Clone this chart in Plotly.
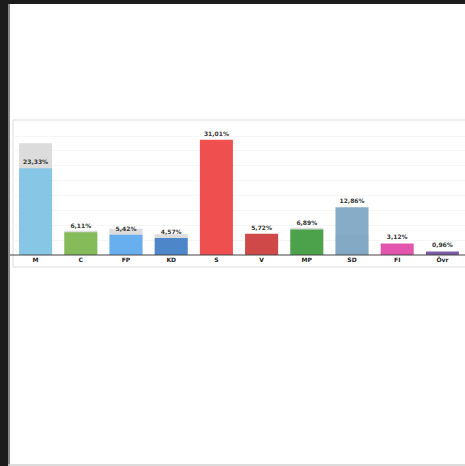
import plotly.graph_objects as go

parties = ["M", "C", "FP", "KD", "S", "V", "MP", "SD", "FI", "Övr"]
result_2014 = [23.33, 6.11, 5.42, 4.57, 31.01, 5.72, 6.89, 12.86, 3.12, 0.96]
result_2010 = [30.06, 6.56, 7.06, 5.60, 30.66, 5.60, 7.34, 5.70, 0.40, 0.56]
labels_2014 = ["23,33%", "6,11%", "5,42%", "4,57%", "31,01%", "5,72%", "6,89%", "12,86%", "3,12%", "0,96%"]
party_colors = ["#80c4e6", "#7cb84a", "#5cabf2", "#3f7ec7", "#f2403f",
                "#cf3a3a", "#3c9c3c", "#7ba4c3", "#e244a6", "#6f4c9c"]

W, H = 465, 466
L, R, T, B = 13, 0, 122, 211
PW = W - L - R
PH = H - T - B

def px(x):
    return (x - L) / PW

def py(y):
    return (H - B - y) / PH

fig = go.Figure()
fig.add_trace(go.Bar(
    x=parties, y=result_2010, marker=dict(color="#dcdcdc", line=dict(width=0)),
    hoverinfo="skip", showlegend=False,
))
fig.add_trace(go.Bar(
    x=parties, y=result_2014, marker=dict(color=party_colors, line=dict(width=0)),
    opacity=0.9,
    text=labels_2014, textposition="outside", cliponaxis=False,
    textfont=dict(size=6, color="#222222", family="DejaVu Sans", weight="bold"),
    showlegend=False,
))

shapes = [
    dict(type="rect", xref="paper", yref="paper", x0=px(13), x1=px(470), y0=py(120), y1=py(267),
         line=dict(color="#dddddd", width=1), fillcolor="rgba(0,0,0,0)", layer="below"),
    dict(type="rect", xref="paper", yref="paper", x0=px(-2), x1=px(8), y0=py(470), y1=py(-2),
         line=dict(width=0), fillcolor="#1c1c1c", layer="above"),
    dict(type="rect", xref="paper", yref="paper", x0=px(8), x1=px(10), y0=py(470), y1=py(-2),
         line=dict(width=0), fillcolor="#888888", layer="above"),
    dict(type="rect", xref="paper", yref="paper", x0=px(-2), x1=px(470), y0=py(4), y1=py(-2),
         line=dict(width=0), fillcolor="#1c1c1c", layer="above"),
    dict(type="line", xref="paper", yref="paper", x0=px(8), x1=px(470), y0=py(465), y1=py(465),
         line=dict(color="#d0d0d0", width=1.5)),
    dict(type="line", xref="paper", yref="paper", x0=px(10), x1=px(470), y0=py(255), y1=py(255),
         line=dict(color="#444444", width=1)),
]

fig.update_layout(
    width=W, height=H,
    margin=dict(l=L, r=R, t=T, b=B),
    barmode="overlay", bargap=0.27,
    paper_bgcolor="white", plot_bgcolor="white",
    shapes=shapes,
    xaxis=dict(range=[-0.5, 9.5], showgrid=False, zeroline=False, showline=False,
               ticks="", tickfont=dict(size=6, color="#222222", family="DejaVu Sans", weight="bold"),
               fixedrange=True),
    yaxis=dict(range=[0, 35.8], dtick=4, showgrid=True, gridcolor="#f6f6f6",
               zeroline=False, showticklabels=False, showline=False, fixedrange=True),
)

fig.write_html(
    "out.html",
    config={"displayModeBar": False},
    post_script="document.body.style.margin='0';document.body.style.overflow='hidden';",
)
